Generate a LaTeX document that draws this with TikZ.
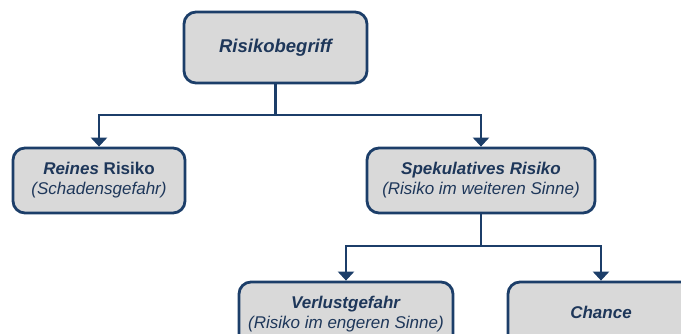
\documentclass[tikz,border=0pt]{standalone}
\usepackage{fontspec}
\setmainfont{Liberation Sans}
\usetikzlibrary{arrows.meta}
\definecolor{navy}{HTML}{1C3E69}
\definecolor{navytext}{HTML}{1E375A}
\definecolor{boxfill}{HTML}{D9D9D9}
\tikzset{
  box/.style={draw=navy, line width=2.8pt, fill=boxfill, rounded corners=12pt,
    text=navytext, align=center, inner sep=0pt, anchor=center},
  lowbox/.style={box, font=\fontsize{17}{20}\selectfont, minimum height=65pt},
  link/.style={draw=navy, line width=2.8pt, -{Triangle[width=16pt,length=9pt]}},
  plain/.style={draw=navy, line width=2.8pt}
}
\begin{document}
\begin{tikzpicture}[x=1pt,y=-1pt]
  \useasboundingbox (0,0) rectangle (681,333);
  \clip (0,0) rectangle (681,333);

  \node[box, font=\fontsize{18.5}{22}\selectfont\bfseries\itshape,
        minimum width=183pt, minimum height=71pt] (root) at (275.5,47.5) {Risikobegriff};

  \node[lowbox, minimum width=172pt] (rein) at (99,180.5)
    {\textbf{\textit{Reines}} \textbf{Risiko}\\\textit{(Schadensgefahr)}};
  \node[lowbox, minimum width=228pt] (spek) at (481,180.5)
    {\textbf{\textit{Spekulatives Risiko}}\\\textit{(Risiko im weiteren Sinne)}};

  \node[lowbox, minimum width=214pt] (verl) at (346,314.5)
    {\textbf{\textit{Verlustgefahr}}\\\textit{(Risiko im engeren Sinne)}};
  \node[lowbox, minimum width=186pt, font=\fontsize{17}{20}\selectfont\bfseries\itshape] (chance) at (601,314.5)
    {\raisebox{4.5pt}{Chance}};

  % branching connectors
  \coordinate (j1) at (root.south |- 0,115);
  \coordinate (j2) at (spek.south |- 0,246);
  \draw[plain] (root.south) -- (j1);
  \draw[link] (j1) -| (rein.north);
  \draw[link] (j1) -| (spek.north);
  \draw[plain] (spek.south) -- (j2);
  \draw[link] (j2) -| (verl.north);
  \draw[link] (j2) -| (chance.north);
\end{tikzpicture}
\end{document}
